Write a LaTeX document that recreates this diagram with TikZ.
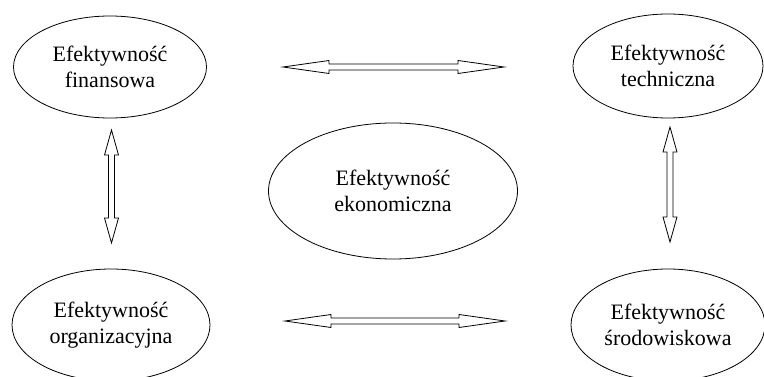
\documentclass[tikz,border=0pt]{standalone}
\usepackage{fontspec}
\setmainfont{Liberation Serif}
\usetikzlibrary{shapes.geometric,calc}
\tikzset{
  eff/.style={draw, ellipse, line width=0.8pt, inner sep=0pt, align=center,
    font=\fontsize{22}{26}\selectfont},
  arrowline/.style={draw, line width=0.8pt, line join=miter},
}
\newcommand\harrowshape[2]{%
  \path[arrowline] (#1) -- ++(46,-6.5) -- ++(0,3.5) -- ($(#2)+(-46,-3)$) -- ++(0,-3.5)
    -- (#2) -- ++(-46,6.5) -- ++(0,-3.5) -- ($(#1)+(46,3)$) -- ++(0,3.5) -- cycle;}
\newcommand\varrowshape[2]{%
  \path[arrowline] (#1) -- ++(7,25) -- ++(-4,0) -- ($(#2)+(3,-25)$) -- ++(4,0)
    -- (#2) -- ++(-7,-25) -- ++(4,0) -- ($(#1)+(-3,25)$) -- ++(-4,0) -- cycle;}
\begin{document}
\begin{tikzpicture}[x=1pt,y=-1pt]
\useasboundingbox (0,0) rectangle (764,377);
\begin{scope}
\clip (0,0) rectangle (764,377);
\node[eff, minimum width=193pt, minimum height=102pt] (fin) at (110,67) {Efektywność\\finansowa};
\node[eff, minimum width=190pt, minimum height=104pt] (tech) at (668,66) {Efektywność\\techniczna};
\node[eff, minimum width=249pt, minimum height=136pt] (eko) at (393,191) {Efektywność\\ekonomiczna};
\node[eff, minimum width=198pt, minimum height=112pt] (org) at (111,325) {Efektywność\\organizacyjna};
\node[eff, minimum width=194pt, minimum height=112pt] (sro) at (668,325) {Efektywność\\środowiskowa};
\end{scope}
\coordinate (t1) at (283,67);
\coordinate (t2) at (504,67);
\coordinate (b1) at (285,321);
\coordinate (b2) at (505,321);
\coordinate (l1) at (111.5,130);
\coordinate (l2) at (111.5,243);
\coordinate (r1) at (670,127);
\coordinate (r2) at (670,242);
\harrowshape{t1}{t2}
\harrowshape{b1}{b2}
\varrowshape{l1}{l2}
\varrowshape{r1}{r2}
\end{tikzpicture}
\end{document}
